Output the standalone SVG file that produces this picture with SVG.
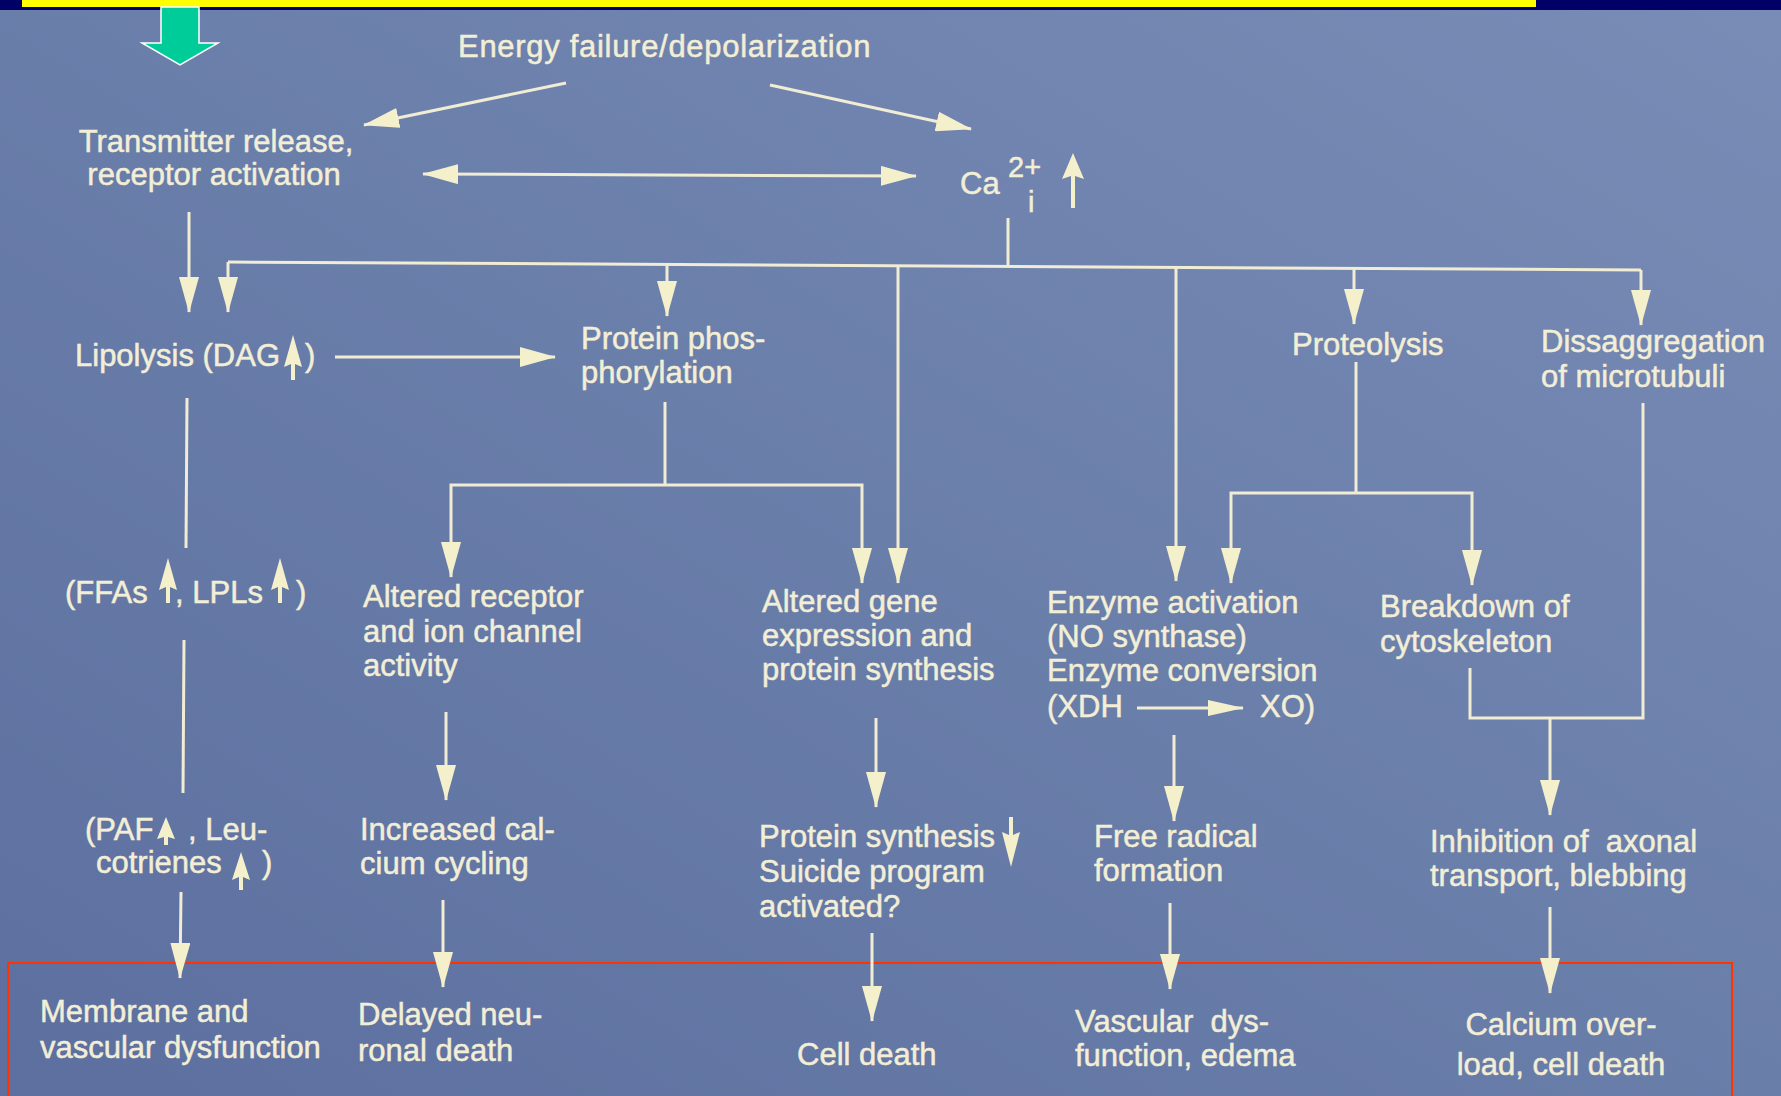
<svg xmlns="http://www.w3.org/2000/svg" width="1781" height="1096" viewBox="0 0 1781 1096">
<defs>
<linearGradient id="bg" x1="1" y1="0" x2="0" y2="1">
<stop offset="0" stop-color="#788cb6"/>
<stop offset="0.5" stop-color="#6a7eaa"/>
<stop offset="1" stop-color="#5c6f9f"/>
</linearGradient>
<marker id="ah" markerUnits="userSpaceOnUse" markerWidth="36" markerHeight="20" viewBox="0 0 36 20" refX="35" refY="10" orient="auto-start-reverse">
<path d="M0,0 L36,10 L0,20 Z" fill="#f5f0cc"/>
</marker>
<marker id="ahs" markerUnits="userSpaceOnUse" markerWidth="36" markerHeight="16" viewBox="0 0 36 16" refX="35" refY="8" orient="auto">
<path d="M0,0 L36,8 L0,16 Z" fill="#f5f0cc"/>
</marker>
</defs>
<style>
.t { font-family: "Liberation Sans", Arial, sans-serif; font-size: 31px; fill: #f3eed6; stroke: #f3eed6; stroke-width: 0.5px; white-space: pre; }
.m { text-anchor: middle; }
.c { stroke: #f1ecd4; stroke-width: 3; fill: none; }
.a { marker-end: url(#ah); }
.sa { fill: #f5f0cc; }
</style>
<rect x="0" y="0" width="1781" height="1096" fill="url(#bg)"/>
<rect x="0" y="0" width="1781" height="10" fill="#000066"/>
<rect x="22" y="0" width="1514" height="7" fill="#ffff00"/>
<polygon id="green-arrow" points="161,7 199,7 199,43 218,43 180,65 142,43 161,43" fill="#00cc99" stroke="#ffffff" stroke-width="1.5"/>
<rect id="highlight-box" x="8" y="963" width="1724" height="150" fill="none" stroke="#ff3300" stroke-width="2"/>

<g id="connectors">
<path class="c a" d="M566,83 L364,125"/>
<path class="c a" d="M770,85 L971,129"/>
<path class="c a" d="M423,174 L916,176" marker-start="url(#ah)"/>
<path class="c a" d="M189,212 V312"/>
<path class="c" d="M1008,218 V266"/>
<path class="c" d="M228,262 L1641,270"/>
<path class="c a" d="M228,262 V312"/>
<path class="c a" d="M667,264 V316"/>
<path class="c a" d="M898,266 V583"/>
<path class="c a" d="M1176,267 V581"/>
<path class="c a" d="M1354,268 V324"/>
<path class="c a" d="M1641,270 V325"/>
<path class="c a" d="M335,357 H555"/>
<path class="c" d="M187,398 L186,548"/>
<path class="c" d="M184,640 L183,793"/>
<path class="c a" d="M181,892 L180,978"/>
<path class="c" d="M665,402 V485"/>
<path class="c a" d="M665,485 H451 V577"/>
<path class="c a" d="M665,485 H862 V583"/>
<path class="c a" d="M446,712 V800"/>
<path class="c a" d="M443,900 V987"/>
<path class="c a" d="M876,718 V807"/>
<path class="c a" d="M872,933 V1021"/>
<path class="c a" d="M1174,735 V821"/>
<path class="c a" d="M1170,903 V989"/>
<path class="c" d="M1356,362 V493"/>
<path class="c a" d="M1356,493 H1231 V583"/>
<path class="c a" d="M1356,493 H1472 V585"/>
<path class="c" d="M1470,668 V718 H1643 V403"/>
<path class="c a" d="M1550,718 V815"/>
<path class="c a" d="M1550,907 V993"/>
</g>

<g id="energy-failure"><text class="t" x="458" y="57" letter-spacing="0.7">Energy failure/depolarization</text></g>
<g id="transmitter-release"><text class="t m" x="216" y="152">Transmitter release,</text><text class="t m" x="214" y="185">receptor activation</text></g>
<g id="calcium">
<text class="t" x="960" y="194">Ca</text>
<text class="t" x="1008" y="177" style="font-size:29px">2+</text>
<text class="t" x="1028" y="212" style="font-size:29px">i</text>
<polygon class="sa" points="1073,153 1084,179 1075,176 1075,208 1071,208 1071,176 1062,179"/>
</g>
<g id="lipolysis">
<text class="t" x="75" y="366">Lipolysis (DAG</text>
<polygon class="sa" points="293,335 302,367 295,364 295,380 291,380 291,364 284,367"/>
<text class="t" x="305" y="366">)</text>
</g>
<g id="protein-phosphorylation"><text class="t" x="581" y="349">Protein phos-</text><text class="t" x="581" y="383">phorylation</text></g>
<g id="proteolysis"><text class="t" x="1292" y="355">Proteolysis</text></g>
<g id="dissaggregation"><text class="t" x="1541" y="352">Dissaggregation</text><text class="t" x="1541" y="387">of microtubuli</text></g>
<g id="ffas">
<text class="t" x="65" y="603">(FFAs</text>
<polygon class="sa" points="168,558 177,590 170,587 170,603 166,603 166,587 159,590"/>
<text class="t" x="175" y="603">, LPLs</text>
<polygon class="sa" points="280,558 289,590 282,587 282,603 278,603 278,587 271,590"/>
<text class="t" x="296" y="603">)</text>
</g>
<g id="altered-receptor"><text class="t" x="363" y="607">Altered receptor</text><text class="t" x="363" y="642">and ion channel</text><text class="t" x="363" y="676">activity</text></g>
<g id="altered-gene"><text class="t" x="762" y="612">Altered gene</text><text class="t" x="762" y="646">expression and</text><text class="t" x="762" y="680">protein synthesis</text></g>
<g id="enzyme">
<text class="t" x="1047" y="613">Enzyme activation</text>
<text class="t" x="1047" y="647">(NO synthase)</text>
<text class="t" x="1047" y="681">Enzyme conversion</text>
<text class="t" x="1047" y="717">(XDH</text>
<path class="c" d="M1137,708 H1243" marker-end="url(#ahs)"/>
<text class="t" x="1260" y="717">XO)</text>
</g>
<g id="breakdown"><text class="t" x="1380" y="617">Breakdown of</text><text class="t" x="1380" y="652">cytoskeleton</text></g>
<g id="paf">
<text class="t" x="85" y="840">(PAF</text>
<polygon class="sa" points="166,817 175,839 168,837 168,845 164,845 164,837 157,839"/>
<text class="t" x="188" y="840">, Leu-</text>
<text class="t" x="96" y="873">cotrienes</text>
<polygon class="sa" points="241,852 250,880 243,877 243,890 239,890 239,877 232,880"/>
<text class="t" x="262" y="873">)</text>
</g>
<g id="increased-calcium"><text class="t" x="360" y="840">Increased cal-</text><text class="t" x="360" y="874">cium cycling</text></g>
<g id="protein-synthesis">
<text class="t" x="759" y="847">Protein synthesis</text>
<polygon class="sa" points="1011,867 1020,832 1013,835 1013,817 1009,817 1009,835 1002,832"/>
<text class="t" x="759" y="882">Suicide program</text>
<text class="t" x="759" y="917">activated?</text>
</g>
<g id="free-radical"><text class="t" x="1094" y="847">Free radical</text><text class="t" x="1094" y="881">formation</text></g>
<g id="inhibition"><text class="t" x="1430" y="852">Inhibition of  axonal</text><text class="t" x="1430" y="886">transport, blebbing</text></g>
<g id="membrane"><text class="t" x="40" y="1022">Membrane and</text><text class="t" x="40" y="1058">vascular dysfunction</text></g>
<g id="delayed"><text class="t" x="358" y="1025">Delayed neu-</text><text class="t" x="358" y="1061">ronal death</text></g>
<g id="cell-death"><text class="t" x="797" y="1065">Cell death</text></g>
<g id="vascular"><text class="t" x="1075" y="1032">Vascular  dys-</text><text class="t" x="1075" y="1066">function, edema</text></g>
<g id="calcium-overload"><text class="t m" x="1561" y="1035">Calcium over-</text><text class="t m" x="1561" y="1075">load, cell death</text></g>
</svg>
